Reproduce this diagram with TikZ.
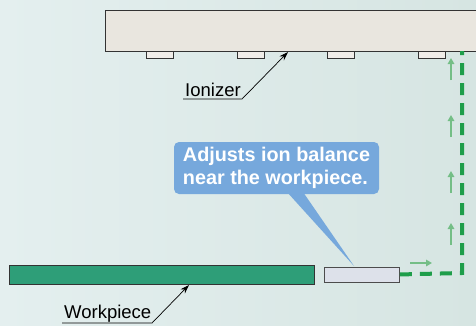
\documentclass[tikz,border=0pt]{standalone}
\usepackage{fontspec}
\setmainfont{Liberation Sans}
\usetikzlibrary{arrows.meta,calc}
\definecolor{bgA}{HTML}{E4EFEF}
\definecolor{bgB}{HTML}{D6E5E2}
\definecolor{barfill}{HTML}{E9E6DF}
\definecolor{wpgreen}{HTML}{2E9E78}
\definecolor{sensfill}{HTML}{DDE1EA}
\definecolor{calloutblue}{HTML}{76A8DC}
\definecolor{flowgreen}{HTML}{1E9E4A}
\definecolor{lightflow}{HTML}{74BE86}
\tikzset{
  part/.style={draw=black!80, line width=0.9pt, inner sep=0pt, anchor=north west},
  label/.style={font=\fontsize{18.5}{22}\selectfont, anchor=base west, inner sep=0pt},
  leader/.style={line width=0.7pt, -{Stealth[length=9pt,width=6pt]}},
  flow/.style={flowgreen, line width=4pt, dash pattern=on 12pt off 8pt},
  ionflow/.style={lightflow, line width=2.6pt, -{Triangle[length=6pt,width=6.5pt]}},
  callout/.style={fill=calloutblue, rounded corners=5pt, text=white, align=left,
    font=\fontsize{19.8}{23}\selectfont\bfseries, inner sep=0pt, minimum width=205pt, minimum height=52pt}
}
\begin{document}
\begin{tikzpicture}[x=1pt,y=-1pt]
\useasboundingbox (0,0) rectangle (476,325);
\clip (0,0) rectangle (476,325);
\shade[left color=bgA, right color=bgB] (0,0) rectangle (476,325);
% ionizer
\node[part, fill=barfill, minimum width=390pt, minimum height=41pt] (ionizer) at (105,10) {};
\foreach \x/\n in {146/t1,237/t2,327/t3,418/t4}
  \node[part, fill=barfill!70!white, minimum width=27pt, minimum height=7pt] (\n) at (\x,51) {};
% workpiece and sensor
\node[part, fill=wpgreen, minimum width=305pt, minimum height=19pt] (work) at (9,265) {};
\node[part, fill=sensfill, draw=black!70, minimum width=75pt, minimum height=15pt] (sensor) at (324,267) {};
% labels
\node[label] (ionlbl) at (185,96) {Ionizer};
\coordinate (ionul) at (183,99);
\coordinate (ionulend) at (242,99);
\coordinate (iontip) at (288,52);
\draw[leader] (ionul) -- (ionulend) -- (iontip);
\node[label] (wplbl) at (64,318) {Workpiece};
\coordinate (wpul) at (62,323);
\coordinate (wpulend) at (152,323);
\coordinate (wptip) at (189,285);
\draw[leader] (wpul) -- (wpulend) -- (wptip);
% callout
\coordinate (ptip) at (354,266);
\fill[calloutblue] (287,192) -- (303,192) -- (ptip) -- cycle;
\node[callout] (call) at (276.5,168) {Adjusts ion balance\\near the workpiece.};
% flow path
\coordinate (corner) at (462,273);
\coordinate (ftop) at (462,51);
\draw[flow] (sensor.east) ++(0,-0.5) -- (corner) -- (ftop);
% small arrows
\foreach \y in {80,137,193,245}
  \draw[ionflow] (451,\y) -- (451,\y-22);
\draw[ionflow] (410,263) -- (432,263);
\end{tikzpicture}
\end{document}
